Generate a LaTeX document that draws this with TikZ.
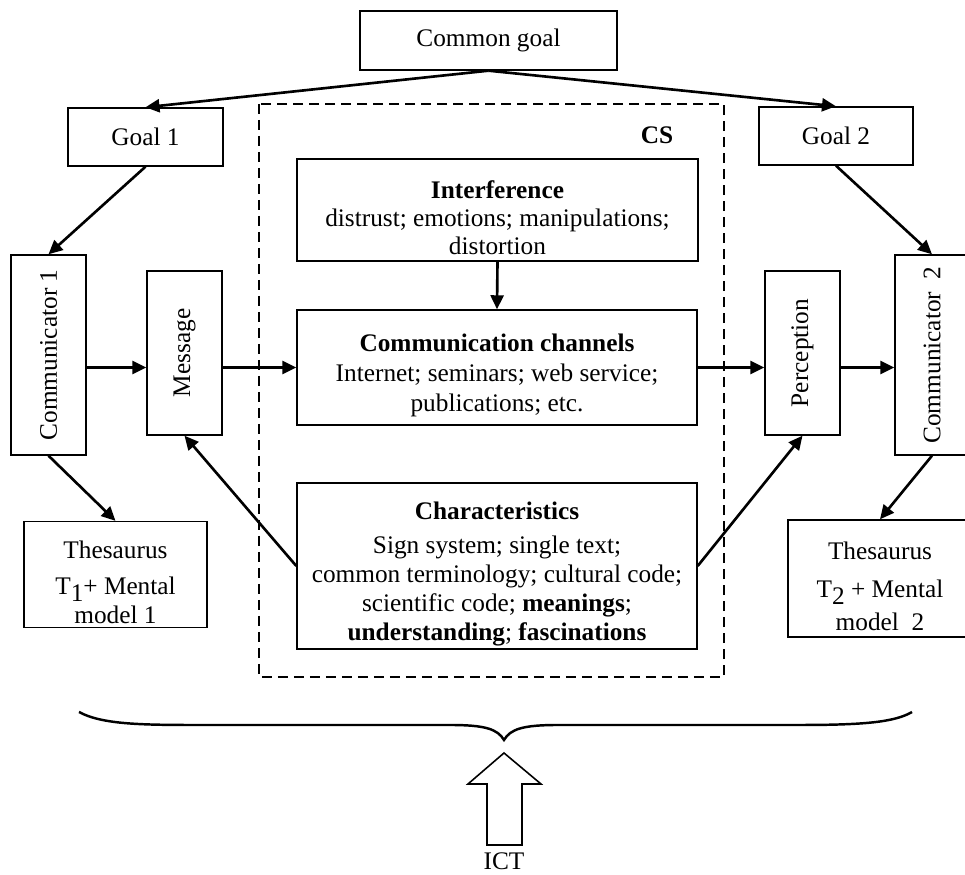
\documentclass[tikz,border=0pt]{standalone}
\usepackage{fontspec}
\setmainfont{Liberation Serif}
\usepackage{graphicx}
\usetikzlibrary{arrows.meta}
\newcommand{\topgap}{\rule{0pt}{19pt}}

\begin{document}
\begin{tikzpicture}[
  box/.style={draw, rectangle, line width=0.8pt, inner sep=2pt, align=center,
    font=\fontsize{14.4}{15.8}\selectfont},
  lnk/.style={-{Triangle[length=2.8mm,width=2.6mm]}, line width=1.5pt},
  cs/.style={dash pattern=on 0.2cm off 0.12cm, line width=0.8pt},
  brc/.style={line width=1.4pt},
  hollow/.style={draw, line width=0.9pt, fill=white},
]
\useasboundingbox (0,0) rectangle (19.3,17.5);
% goals
\node[box, minimum width=5.14cm, minimum height=1.18cm] (goal) at (9.77,16.69) {Common goal};
\node[box, minimum width=3.1cm, minimum height=1.16cm] (g1) at (2.91,14.76) {Goal 1};
\node[box, minimum width=3.08cm, minimum height=1.16cm] (g2) at (16.72,14.78) {Goal 2};
% the CS frame
\draw[cs] (5.18,15.42) rectangle (14.48,3.96);
\node[font=\fontsize{14.4}{15.8}\selectfont\bfseries] (cslbl) at (13.14,14.8) {CS};
\node[box, minimum width=8.02cm, minimum height=2.04cm] (intf) at (9.95,13.3)
  {\topgap\textbf{Interference}\\distrust; emotions; manipulations;\\distortion};
\node[box, minimum width=8.0cm, minimum height=2.3cm] (chan) at (9.94,10.15)
  {\topgap\textbf{Communication channels}\\[1.5pt]Internet; seminars; web service;\\[1.5pt]publications; etc.};
\node[box, minimum width=8.0cm, minimum height=3.32cm] (chr) at (9.94,6.18)
  {\topgap\textbf{Characteristics}\\[3.5pt]Sign system; single text;\\[0.6pt]common terminology; cultural code;\\[0.6pt]
   scientific code; \textbf{meanings};\\[0.6pt]\textbf{understanding}; \textbf{fascinations}};
% side columns
\node[box, minimum width=1.5cm, minimum height=4.0cm] (com1) at (0.97,10.4) {\rotatebox{90}{Communicator 1}};
\node[box, minimum width=1.5cm, minimum height=3.28cm] (msg) at (3.69,10.44) {\rotatebox{90}{Message}};
\node[box, minimum width=1.5cm, minimum height=3.28cm] (per) at (16.05,10.44) {\rotatebox{90}{Perception}};
\node[box, minimum width=1.48cm, minimum height=4.0cm] (com2) at (18.64,10.4) {\rotatebox{90}{Communicator\enspace 2}};
\node[box, minimum width=3.66cm, minimum height=2.1cm] (th1) at (2.31,6.01)
  {\topgap Thesaurus\\[4.5pt]T\raisebox{-0.3em}{1}+ Mental\\[1pt]model 1};
\node[box, minimum width=3.68cm, minimum height=2.34cm] (th2) at (17.6,5.93)
  {\topgap Thesaurus\\[5.5pt]T\raisebox{-0.3em}{2} + Mental\\[3pt]model\enspace 2};
% arrows
\draw[lnk] (goal.south) -- (g1.north);
\draw[lnk] (goal.south) -- (g2.north);
\draw[lnk] (g1.south) -- (com1.north);
\draw[lnk] (g2.south) -- (com2.north);
\draw[lnk] (com1.east |- chan.west) -- (msg.west |- chan.west);
\draw[lnk] (msg.east |- chan.west) -- (chan.west);
\draw[lnk] (chan.east) -- (per.west |- chan.east);
\draw[lnk] (per.east |- chan.east) -- (com2.west |- chan.east);
\draw[lnk] (intf.south) -- (chan.north);
\draw[lnk] (com1.south) -- (th1.north);
\draw[lnk] (com2.south) -- (th2.north);
\draw[lnk] (chr.west) -- (msg.south);
\draw[lnk] (chr.east) -- (per.south);
% brace and ICT
\draw[brc] (1.58,3.26) .. controls (2.1,2.98) and (3.0,3.0) .. (4.5,3.0)
  -- (9.0,3.0) .. controls (9.7,3.0) and (9.95,2.92) .. (10.08,2.7)
  .. controls (10.21,2.92) and (10.46,3.0) .. (11.16,3.0)
  -- (16.0,3.0) .. controls (17.3,3.0) and (17.9,3.06) .. (18.24,3.26);
\draw[hollow] (10.08,2.44) -- (10.82,1.82) -- (10.44,1.82) -- (10.44,0.6)
  -- (9.74,0.6) -- (9.74,1.82) -- (9.36,1.82) -- cycle;
\node[font=\fontsize{14.4}{15.8}\selectfont, inner sep=0pt, anchor=base] (ict) at (10.08,0.1) {ICT};
\end{tikzpicture}
\end{document}
